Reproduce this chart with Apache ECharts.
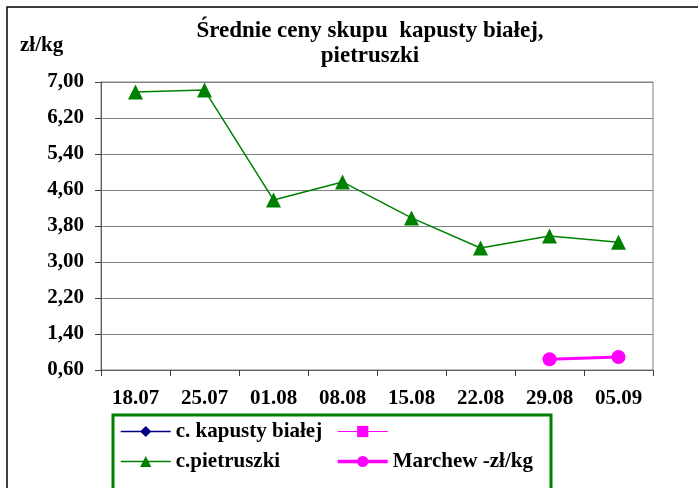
<!DOCTYPE html>
<html>
<head>
<meta charset="utf-8">
<script src="https://cdn.jsdelivr.net/npm/echarts@6/dist/echarts.min.js"></script>
<style>
  html, body { margin: 0; padding: 0; background: #fff; }
  #chart { width: 698px; height: 488px; }
</style>
</head>
<body>
<div id="chart"></div>
<script>
var dates = ['18.07', '25.07', '01.08', '08.08', '15.08', '22.08', '29.08', '05.09'];
var yTicks = [0.6, 1.4, 2.2, 3.0, 3.8, 4.6, 5.4, 6.2, 7.0];

// wartości (zł/kg)
var kapusta = [null, null, null, null, null, null, null, null];
var bezNazwy = [null, null, null, null, null, null, null, null];
var pietruszka = [6.78, 6.82, 4.38, 4.78, 3.98, 3.31, 3.58, 3.44];
var marchew = [null, null, null, null, null, null, 0.84, 0.89];

var serif = '"Liberation Serif", "Times New Roman", serif';
var chart = echarts.init(document.getElementById('chart'));

function fmt(v) {
  return Number(v).toFixed(2).replace('.', ',');
}

var legendText = { fontFamily: serif, fontWeight: 'bold', fontSize: 21, color: '#000' };

chart.setOption({
  animation: false,
  title: [
    {
      text: 'Średnie ceny skupu  kapusty białej,\npietruszki',
      left: 365, top: 14, textAlign: 'center',
      textStyle: { fontFamily: serif, fontWeight: 'bold', fontSize: 23, lineHeight: 25, color: '#000' }
    },
    {
      text: 'zł/kg', left: 15, top: 30,
      textStyle: { fontFamily: serif, fontWeight: 'bold', fontSize: 21, color: '#000' }
    }
  ],
  legend: [
    {
      data: [
        { name: 'c. kapusty białej', lineStyle: { width: 1.5 } },
        { name: 'c.pietruszki', lineStyle: { width: 1.5 } }
      ],
      orient: 'vertical', left: 120, top: 421, padding: 0,
      itemWidth: 50, itemHeight: 14, itemGap: 9,
      textStyle: legendText
    },
    {
      data: [
        { name: ' ', lineStyle: { width: 1 } },
        { name: 'Marchew -zł/kg', lineStyle: { width: 3.5 } }
      ],
      orient: 'vertical', left: 336, top: 421, padding: 0,
      itemWidth: 50, itemHeight: 14, itemGap: 9,
      textStyle: legendText
    }
  ],
  grid: {
    left: 101, right: 45, top: 82, bottom: 118,
    show: true, borderColor: '#808080', borderWidth: 1
  },
  xAxis: {
    type: 'category',
    data: dates,
    boundaryGap: true,
    axisLine: { lineStyle: { color: '#606060', width: 1 } },
    axisTick: { show: true, length: 6, lineStyle: { color: '#404040' } },
    axisLabel: { margin: 18, fontFamily: serif, fontWeight: 'bold', fontSize: 21, color: '#000', interval: 0 }
  },
  yAxis: {
    type: 'value',
    min: 0.6, max: 7,
    axisLine: { show: true, lineStyle: { color: '#606060', width: 1 } },
    axisTick: { show: true, length: 6, customValues: yTicks, lineStyle: { color: '#404040' } },
    axisLabel: {
      customValues: yTicks, margin: 17,
      fontFamily: serif, fontWeight: 'bold', fontSize: 21, color: '#000',
      formatter: fmt
    },
    splitLine: { show: true, lineStyle: { color: '#808080', width: 1 } }
  },
  series: [
    {
      name: 'c. kapusty białej', type: 'line', data: kapusta,
      symbol: 'diamond', symbolSize: 14,
      itemStyle: { color: '#000080' }, lineStyle: { color: '#000080', width: 1.5 }
    },
    {
      name: ' ', type: 'line', data: bezNazwy,
      symbol: 'rect', symbolSize: 11,
      itemStyle: { color: '#FF00FF' }, lineStyle: { color: '#FF00FF', width: 1 }
    },
    {
      name: 'c.pietruszki', type: 'line', data: pietruszka,
      symbol: 'triangle', symbolSize: 15,
      itemStyle: { color: '#008000' }, lineStyle: { color: '#008000', width: 1.5 }
    },
    {
      name: 'Marchew -zł/kg', type: 'line', data: marchew,
      symbol: 'circle', symbolSize: 14,
      itemStyle: { color: '#FF00FF' }, lineStyle: { color: '#FF00FF', width: 3 }
    }
  ],
  graphic: [
    {
      type: 'rect', silent: true,
      shape: { x: 7, y: 7, width: 720, height: 520 },
      style: { fill: 'none', stroke: '#000', lineWidth: 1.5 }
    },
    {
      type: 'rect', silent: true,
      shape: { x: 113, y: 415, width: 438, height: 90 },
      style: { fill: 'none', stroke: '#008000', lineWidth: 3 }
    }
  ]
});
</script>
</body>
</html>
